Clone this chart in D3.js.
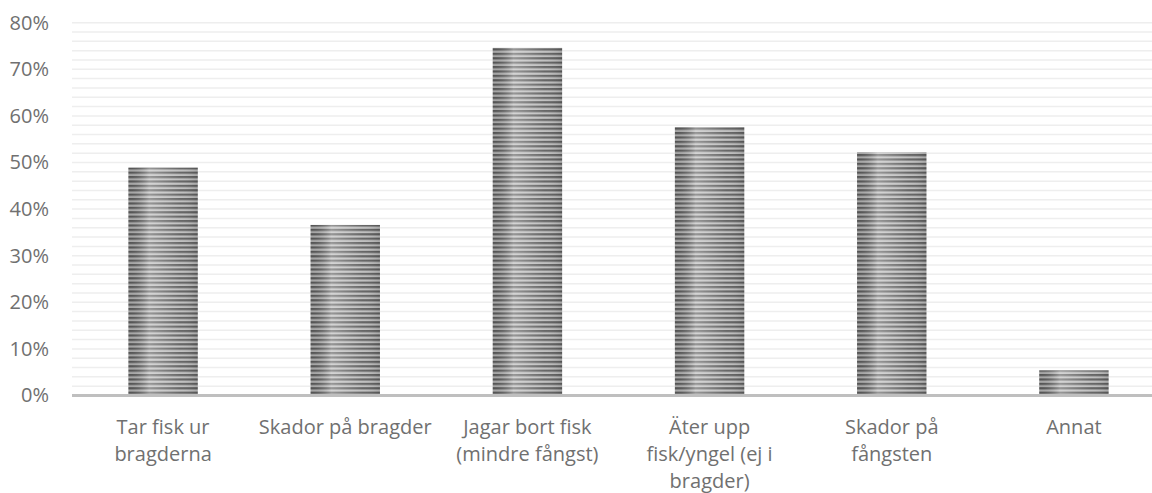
<!DOCTYPE html>
<html>
<head>
<meta charset="utf-8">
<script src="https://cdn.jsdelivr.net/npm/d3@7"></script>
<style>
html,body{margin:0;padding:0;background:#fff;}
svg{display:block;}
text{font-family:"Open Sans",sans-serif;fill:#707070;}
</style>
</head>
<body>
<svg id="chart" width="1152" height="493"></svg>
<script>
const categories = ["Tar fisk ur bragderna","Skador på bragder","Jagar bort fisk (mindre fångst)","Äter upp fisk/yngel (ej i bragder)","Skador på fångsten","Annat"];
const labelLines = [["Tar fisk ur","bragderna"],["Skador på bragder"],["Jagar bort fisk","(mindre fångst)"],["Äter upp","fisk/yngel (ej i","bragder)"],["Skador på","fångsten"],["Annat"]];
const values = [0.489, 0.366, 0.746, 0.576, 0.522, 0.054];
const yTicks = [0,0.1,0.2,0.3,0.4,0.5,0.6,0.7,0.8];
const minorTicks = d3.range(0, 0.801, 0.02);

const svg = d3.select("#chart");
const W = 1152, H = 493;
const x = d3.scaleBand().domain(categories).range([72, 1165]).paddingInner(0.619).paddingOuter(0.3095);
const y = d3.scaleLinear().domain([0, 0.8]).range([395.5, 22.7]);

const defs = svg.append("defs");
const pat = defs.append("pattern").attr("id","stripes").attr("patternUnits","userSpaceOnUse")
  .attr("width",10).attr("height",4.4);
pat.append("rect").attr("width",10).attr("height",4.4).attr("fill","#bdbdbd");
pat.append("rect").attr("y",0).attr("width",10).attr("height",2.2).attr("fill","#5f5f5f");
const grad = defs.append("linearGradient").attr("id","shade").attr("x1",0).attr("x2",1).attr("y1",0).attr("y2",0);
grad.append("stop").attr("offset","0").attr("stop-color","#000").attr("stop-opacity",0.12);
grad.append("stop").attr("offset","0.3").attr("stop-color","#fff").attr("stop-opacity",0.35);
grad.append("stop").attr("offset","0.75").attr("stop-color","#fff").attr("stop-opacity",0.05);
grad.append("stop").attr("offset","1").attr("stop-color","#000").attr("stop-opacity",0.12);

// gridlines
svg.append("g").selectAll("line").data(minorTicks).join("line")
  .attr("x1",72).attr("x2",W).attr("y1",d=>y(d)).attr("y2",d=>y(d))
  .attr("stroke","#eeeeee").attr("stroke-width",1.5);

// y axis labels
const yAxis = d3.axisLeft(y).tickValues(yTicks).tickFormat(d3.format(".0%")).tickSize(0).tickPadding(0);
const ya = svg.append("g").attr("transform","translate(49,0)").call(yAxis);
ya.select(".domain").remove();
ya.selectAll("text").style("font-size","20px").attr("fill","#707070").style("font-family","'Open Sans',sans-serif");

// bars
const bars = svg.append("g");
bars.selectAll("rect.b").data(values).join("rect").attr("class","b")
  .attr("x",(d,i)=>x(categories[i])).attr("width",x.bandwidth())
  .attr("y",d=>y(d)).attr("height",d=>y(0)-y(d)).attr("fill","url(#stripes)");
bars.selectAll("rect.s").data(values).join("rect").attr("class","s")
  .attr("x",(d,i)=>x(categories[i])).attr("width",x.bandwidth())
  .attr("y",d=>y(d)).attr("height",d=>y(0)-y(d)).attr("fill","url(#shade)");

// baseline
svg.append("line").attr("x1",72).attr("x2",W).attr("y1",y(0)).attr("y2",y(0))
  .attr("stroke","#bfbfbf").attr("stroke-width",3);

// category labels
const lg = svg.append("g");
categories.forEach((c,i)=>{
  const cx = x(c) + x.bandwidth()/2;
  const t = lg.append("text").attr("text-anchor","middle").style("font-size","20px");
  labelLines[i].forEach((ln,j)=>{
    t.append("tspan").attr("x",cx).attr("y",434 + j*26.8).text(ln);
  });
});
</script>
</body>
</html>
